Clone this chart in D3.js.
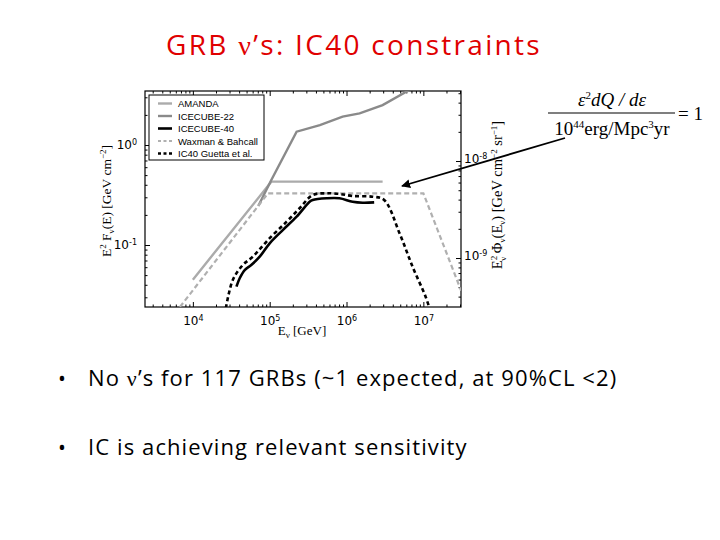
<!DOCTYPE html>
<html>
<head>
<meta charset="utf-8">
<script src="https://cdn.jsdelivr.net/npm/d3@7"></script>
<style>
  body { margin: 0; background: #fff; }
  svg { display: block; }
</style>
</head>
<body>
<script>
// ---- data ----
const seriesNames = ["AMANDA", "ICECUBE-22", "ICECUBE-40", "Waxman & Bahcall", "IC40 Guetta et al."];

const amandaE = [1.0e4, 1.05e5, 2.95e6];
const amandaF = [0.045, 0.43, 0.43];

const ic22E = [7.1e4, 1.05e5, 2.24e5, 4.5e5, 8.9e5, 1.48e6, 2.95e6, 6.0e6, 7.0e6];
const ic22F = [0.245, 0.447, 1.36, 1.58, 1.92, 2.07, 2.51, 3.41, 3.6];

const ic40E = [3.69e4, 4.07e4, 4.73e4, 5.75e4, 7.41e4, 1.0e5, 1.48e5, 2.24e5, 3.31e5, 3.63e5, 5.5e5, 8.1e5, 1.2e6, 1.62e6, 2.29e6];
const ic40F = [0.0383, 0.0465, 0.0562, 0.0631, 0.0764, 0.104, 0.141, 0.192, 0.271, 0.282, 0.293, 0.293, 0.271, 0.265, 0.267];

const wbE = [6.8e3, 9.5e4, 1.0e7, 3.1e7];
const wbF = [0.024, 0.329, 0.329, 0.035];

const guettaE = [2.69e4, 3.31e4, 4.47e4, 6.03e4, 1.0e5, 1.66e5, 2.45e5, 3.63e5, 5.5e5, 8.1e5, 1.2e6, 2.19e6, 3.09e6, 4.9e6, 7.24e6, 1.07e7, 1.2e7];
const guettaF = [0.0234, 0.0447, 0.0631, 0.0764, 0.117, 0.171, 0.233, 0.316, 0.329, 0.324, 0.309, 0.304, 0.282, 0.131, 0.0607, 0.0304, 0.0234];

const xTicks = [1e4, 1e5, 1e6, 1e7];
const yTicks = [1e-1, 1e0];
const y2Ticks = [1e-9, 1e-8];

const bullets = ["No ν’s for 117 GRBs (~1 expected, at 90%CL <2)", "IC is achieving relevant sensitivity"];

// ---- layout ----
const W = 720, H = 540;
const frame = { left: 145, right: 461, top: 91, bottom: 307 };

const svg = d3.select("body").append("svg")
    .attr("width", W).attr("height", H);

const x = d3.scaleLog().domain([Math.pow(10, 3.377), Math.pow(10, 7.49)]).range([frame.left, frame.right]);
const y = d3.scaleLog().domain([Math.pow(10, -1.62), Math.pow(10, 0.54)]).range([frame.bottom, frame.top]);
const y2 = d3.scaleLog().domain([Math.pow(10, -9.505), Math.pow(10, -7.278)]).range([frame.bottom, frame.top]);

// title
const title = svg.append("text")
    .attr("x", 354).attr("y", 55)
    .attr("text-anchor", "middle")
    .attr("fill", "#e00000")
    .style("font-family", "'Open Sans', 'DejaVu Sans', sans-serif")
    .style("font-size", "28px")
    .style("letter-spacing", "2.3px");
title.append("tspan").text("GRB ");
title.append("tspan").style("font-family", "'Liberation Serif', serif").text("ν");
title.append("tspan").text("’s: IC40 constraints");

// minor tick helper
function minors(lo, hi) {
    const out = [];
    for (let e = Math.floor(Math.log10(lo)); e <= Math.ceil(Math.log10(hi)); e++) {
        for (let m = 2; m <= 9; m++) {
            const v = m * Math.pow(10, e);
            if (v > lo && v < hi) out.push(v);
        }
    }
    return out;
}

function powLabel(sel) {
    sel.selectAll(".tick text").each(function (d) {
        const t = d3.select(this).text("");
        t.append("tspan").text("10");
        t.append("tspan").attr("dy", "-0.5em").style("font-size", "8px").text(Math.round(Math.log10(d)));
    });
}

const axisFont = "'DejaVu Sans', sans-serif";

// frame
svg.append("rect")
    .attr("x", frame.left).attr("y", frame.top)
    .attr("width", frame.right - frame.left).attr("height", frame.bottom - frame.top)
    .attr("fill", "none").attr("stroke", "#000").attr("stroke-width", 1.2);

// x axes (bottom + top, ticks inward)
const gx = svg.append("g").attr("transform", `translate(0,${frame.bottom})`)
    .call(d3.axisBottom(x).tickValues(xTicks).tickSize(-5).tickPadding(9));
gx.call(powLabel);
svg.append("g").attr("transform", `translate(0,${frame.bottom})`)
    .call(d3.axisBottom(x).tickValues(minors(...x.domain())).tickSize(-2.5).tickFormat(""));
svg.append("g").attr("transform", `translate(0,${frame.top})`)
    .call(d3.axisTop(x).tickValues(xTicks).tickSize(-5).tickFormat(""));
svg.append("g").attr("transform", `translate(0,${frame.top})`)
    .call(d3.axisTop(x).tickValues(minors(...x.domain())).tickSize(-2.5).tickFormat(""));

// left axis
const gy = svg.append("g").attr("transform", `translate(${frame.left},0)`)
    .call(d3.axisLeft(y).tickValues(yTicks).tickSize(-5).tickPadding(8));
gy.call(powLabel);
svg.append("g").attr("transform", `translate(${frame.left},0)`)
    .call(d3.axisLeft(y).tickValues(minors(...y.domain())).tickSize(-2.5).tickFormat(""));

// right axis
const gy2 = svg.append("g").attr("transform", `translate(${frame.right},0)`)
    .call(d3.axisRight(y2).tickValues(y2Ticks).tickSize(-5).tickPadding(3));
gy2.call(powLabel);
svg.append("g").attr("transform", `translate(${frame.right},0)`)
    .call(d3.axisRight(y2).tickValues(minors(...y2.domain())).tickSize(-2.5).tickFormat(""));

svg.selectAll(".domain").remove();
svg.selectAll(".tick line").attr("stroke", "#000");
svg.selectAll(".tick text").style("font-family", axisFont).style("font-size", "12px").attr("fill", "#000");
gy2.selectAll(".tick text").attr("dy", "0.1em");

// axis titles (serif)
const serif = "'Liberation Serif', 'DejaVu Serif', serif";
const xl = svg.append("text").attr("x", 302).attr("y", 335).attr("text-anchor", "middle")
    .style("font-family", serif).style("font-size", "13px");
xl.append("tspan").text("E");
xl.append("tspan").attr("dy", 3).style("font-size", "9px").text("ν");
xl.append("tspan").attr("dy", -3).text("  [GeV]");

const yl = svg.append("text").attr("transform", `translate(111,${(frame.top + frame.bottom) / 2 + 2}) rotate(-90)`)
    .attr("text-anchor", "middle").style("font-family", serif).style("font-size", "13.5px");
yl.append("tspan").text("E");
yl.append("tspan").attr("dy", -5).style("font-size", "9px").text("2");
yl.append("tspan").attr("dy", 5).text(" F");
yl.append("tspan").attr("dy", 3).style("font-size", "9px").text("ν");
yl.append("tspan").attr("dy", -3).text("(E) [GeV cm");
yl.append("tspan").attr("dy", -5).style("font-size", "9px").text("−2");
yl.append("tspan").attr("dy", 5).text("]");

const yr = svg.append("text").attr("transform", `translate(502,${(frame.top + frame.bottom) / 2 - 4}) rotate(-90)`)
    .attr("text-anchor", "middle").style("font-family", serif).style("font-size", "14.5px");
yr.append("tspan").text("E");
yr.append("tspan").attr("dy", -5).style("font-size", "9px").text("2");
yr.append("tspan").attr("dy", 9).attr("dx", -5).style("font-size", "9px").text("ν");
yr.append("tspan").attr("dy", -4).text("  Φ");
yr.append("tspan").attr("dy", 3).style("font-size", "9px").text("ν");
yr.append("tspan").attr("dy", -3).text("(E");
yr.append("tspan").attr("dy", 3).style("font-size", "9px").text("ν");
yr.append("tspan").attr("dy", -3).text(")  [GeV cm");
yr.append("tspan").attr("dy", -5).style("font-size", "9px").text("−2");
yr.append("tspan").attr("dy", 5).text("  sr");
yr.append("tspan").attr("dy", -5).style("font-size", "9px").text("−1");
yr.append("tspan").attr("dy", 5).text("]");

// curves
svg.append("clipPath").attr("id", "plotclip").append("rect")
    .attr("x", frame.left).attr("y", frame.top)
    .attr("width", frame.right - frame.left).attr("height", frame.bottom - frame.top);

const series = [
    { name: seriesNames[0], e: amandaE, f: amandaF, color: "#ababab", dash: null, w: 2.4, curve: d3.curveLinear },
    { name: seriesNames[1], e: ic22E, f: ic22F, color: "#8a8a8a", dash: null, w: 2.4, curve: d3.curveLinear },
    { name: seriesNames[2], e: ic40E, f: ic40F, color: "#000", dash: null, w: 2.6, curve: d3.curveCatmullRom },
    { name: seriesNames[3], e: wbE, f: wbF, color: "#b0b0b0", dash: "5,3", w: 2.2, curve: d3.curveLinear },
    { name: seriesNames[4], e: guettaE, f: guettaF, color: "#000", dash: "4,3", w: 2.6, curve: d3.curveCatmullRom }
];

const plot = svg.append("g").attr("clip-path", "url(#plotclip)");
plot.selectAll("path")
    .data(series)
    .join("path")
    .attr("d", s => d3.line().x(d => x(d[0])).y(d => y(d[1])).curve(s.curve)(s.e.map((v, i) => [v, s.f[i]])))
    .attr("fill", "none")
    .attr("stroke", s => s.color)
    .attr("stroke-width", s => s.w)
    .attr("stroke-dasharray", s => s.dash);

// legend
const leg = svg.append("g").attr("transform", "translate(149,95)");
leg.append("rect").attr("width", 115).attr("height", 65)
    .attr("fill", "#fff").attr("stroke", "#000").attr("stroke-width", 1);
const items = leg.selectAll("g.item").data(series).join("g")
    .attr("class", "item")
    .attr("transform", (d, i) => `translate(0,${8.5 + i * 12.5})`);
items.append("line").attr("x1", 9).attr("x2", 23)
    .attr("stroke", d => d.color).attr("stroke-width", d => d.w)
    .attr("stroke-dasharray", d => d.dash ? "3,2.5" : null);
items.append("text").attr("x", 29).attr("y", 3.5)
    .style("font-family", "'Liberation Sans', Arial, sans-serif").style("font-size", "9.5px")
    .text(d => d.name);

// formula
const fg = svg.append("g").style("font-family", serif);
const num = fg.append("text").attr("x", 612).attr("y", 106).attr("text-anchor", "middle").style("font-size", "19px");
num.append("tspan").style("font-style", "italic").text("ε");
num.append("tspan").attr("dy", -7).style("font-size", "11px").text("2");
num.append("tspan").attr("dy", 7).style("font-style", "italic").text("dQ / dε");
fg.append("line").attr("x1", 548).attr("x2", 675).attr("y1", 113).attr("y2", 113).attr("stroke", "#000").attr("stroke-width", 1.2);
const den = fg.append("text").attr("x", 612).attr("y", 135).attr("text-anchor", "middle").style("font-size", "19px");
den.append("tspan").text("10");
den.append("tspan").attr("dy", -7).style("font-size", "11px").text("44");
den.append("tspan").attr("dy", 7).text("erg/Mpc");
den.append("tspan").attr("dy", -7).style("font-size", "11px").text("3");
den.append("tspan").attr("dy", 7).text("yr");
fg.append("text").attr("x", 678).attr("y", 120).style("font-size", "19px").text("= 1");

// arrow pointing at the plateau
svg.append("defs").append("marker").attr("id", "ah")
    .attr("viewBox", "0 0 10 10").attr("refX", 9).attr("refY", 5)
    .attr("markerWidth", 5).attr("markerHeight", 5).attr("orient", "auto")
    .append("path").attr("d", "M0,0L10,5L0,10z").attr("fill", "#000");
svg.append("line")
    .attr("x1", 565).attr("y1", 138).attr("x2", 402).attr("y2", 186)
    .attr("stroke", "#000").attr("stroke-width", 1.8).attr("marker-end", "url(#ah)");

// bullets
const bfont = "'Open Sans', 'DejaVu Sans', sans-serif";
bullets.forEach((b, i) => {
    const yy = 386 + i * 69;
    svg.append("text").attr("x", 58).attr("y", yy).style("font-family", bfont).style("font-size", "21px").text("•");
    const t = svg.append("text").attr("x", 88).attr("y", yy).style("font-family", bfont)
        .style("font-size", "22px").style("letter-spacing", "1.1px");
    const parts = b.split("ν");
    parts.forEach((p, k) => {
        t.append("tspan").text(p);
        if (k < parts.length - 1) t.append("tspan").style("font-family", serif).text("ν");
    });
});
</script>
</body>
</html>
